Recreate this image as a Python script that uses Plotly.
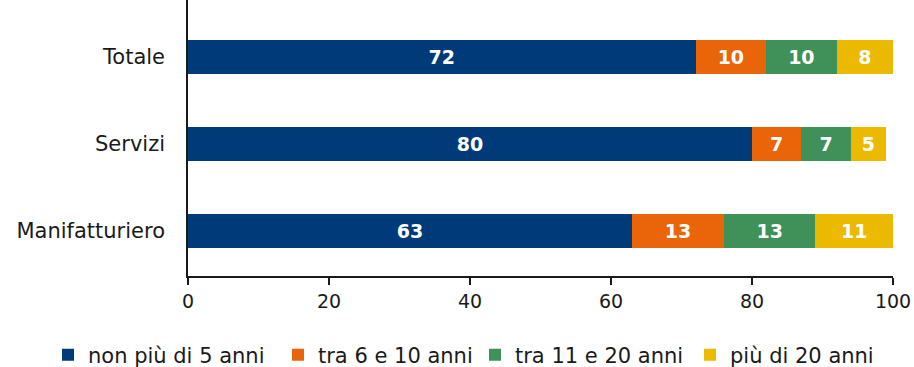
import plotly.graph_objects as go

# Imprese per anzianità (quote percentuali)
settori = ["Manifatturiero", "Servizi", "Totale"]
classi = ["non più di 5 anni", "tra 6 e 10 anni", "tra 11 e 20 anni", "più di 20 anni"]
non_piu_5 = [63, 80, 72]
tra_6_10 = [13, 7, 10]
tra_11_20 = [13, 7, 10]
piu_20 = [11, 5, 8]
colori = ["#003A79", "#EA6509", "#40905A", "#EAB900"]

serie = [non_piu_5, tra_6_10, tra_11_20, piu_20]

# one legend box per series, laid out in a single row under the axis
legend_ids = ["legend", "legend2", "legend3", "legend4"]
legend_x = [48, 278, 475, 690]

fig = go.Figure()
for nome, valori, colore, lid in zip(classi, serie, colori, legend_ids):
    fig.add_trace(go.Bar(
        y=settori,
        x=valori,
        name=nome,
        orientation="h",
        legend=lid,
        marker=dict(color=colore, line=dict(width=0)),
        text=[str(v) for v in valori],
        textposition="inside",
        insidetextanchor="middle",
        textangle=0,
        constraintext="none",
        textfont=dict(family="DejaVu Sans", size=19, color="white", weight="bold"),
        hoverinfo="skip",
    ))

legend_style = dict(
    orientation="h",
    xref="container",
    yref="container",
    xanchor="left",
    yanchor="middle",
    y=(367 - 355) / 367,
    font=dict(size=21),
    itemwidth=30,
    bgcolor="rgba(0,0,0,0)",
)

fig.update_layout(
    barmode="stack",
    bargap=0.6,
    width=914,
    height=367,
    margin=dict(l=188, r=21, t=0, b=91, autoexpand=False),
    paper_bgcolor="white",
    plot_bgcolor="white",
    font=dict(family="DejaVu Sans", size=20, color="#1a1a1a"),
    showlegend=True,
    xaxis=dict(
        range=[0, 100],
        tickvals=[0, 20, 40, 60, 80, 100],
        showgrid=False,
        zeroline=False,
        showline=True,
        linecolor="#1a1a1a",
        linewidth=1.5,
        ticks="outside",
        ticklen=7,
        tickwidth=1.5,
        tickcolor="#1a1a1a",
        tickfont=dict(size=19),
    ),
    yaxis=dict(
        range=[-0.517, 2.655],
        showgrid=False,
        zeroline=False,
        showline=True,
        linecolor="#1a1a1a",
        linewidth=1.5,
        ticks="",
        ticklabelstandoff=17,
        tickfont=dict(size=21),
    ),
)

for lid, lx in zip(legend_ids, legend_x):
    fig.update_layout({lid: dict(legend_style, x=lx / 914)})

fig.write_html("out.html")
